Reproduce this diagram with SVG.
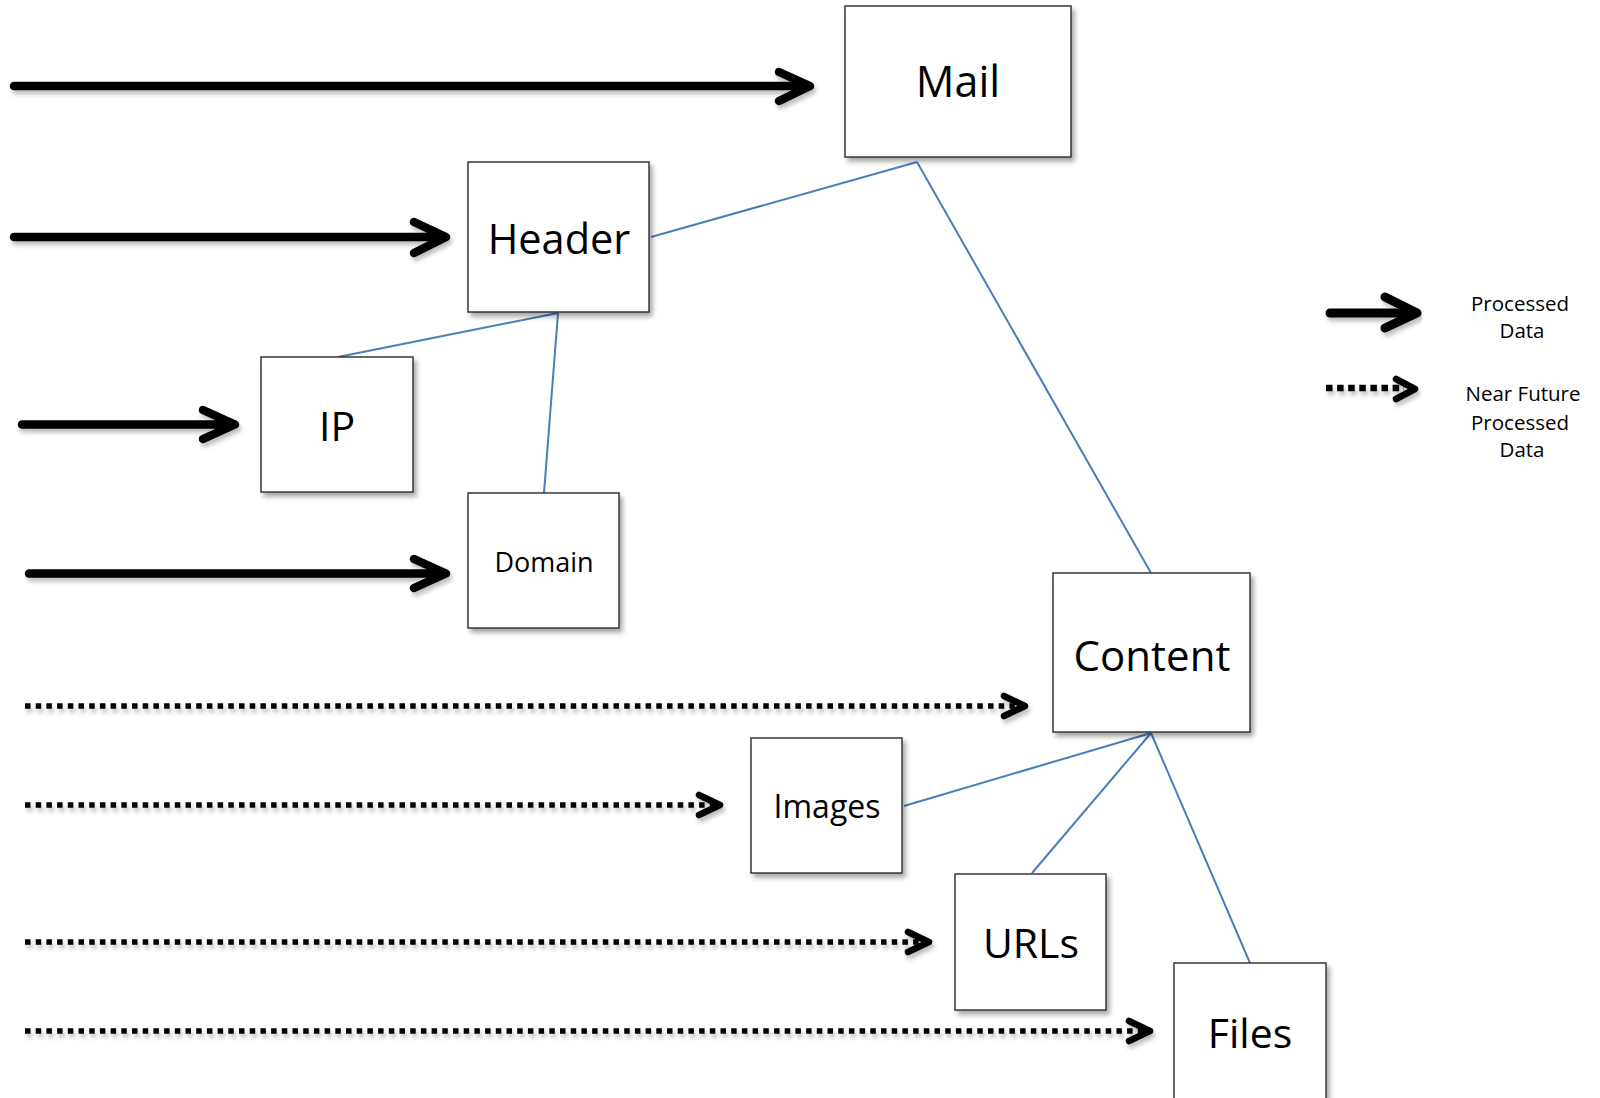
<svg xmlns="http://www.w3.org/2000/svg" width="1600" height="1098" viewBox="0 0 1600 1098">
<style>
.box{fill:#fff;stroke:#2b2b2b;stroke-width:1.4;filter:url(#sh)}
.lbl{font-family:"Open Sans","Noto Sans",sans-serif;fill:#000;text-anchor:middle}
.conn{stroke:#4a7ebb;stroke-width:2;fill:none}
.solid{stroke:#000;stroke-width:8.5;fill:none;stroke-linecap:round;stroke-linejoin:round}
.dot{stroke:#000;stroke-width:5.5;fill:none;stroke-dasharray:5.5 5.2}
.dhead{stroke:#000;stroke-width:6.5;fill:none;stroke-linecap:round;stroke-linejoin:round}
.leg{font-family:"Open Sans","Noto Sans",sans-serif;font-size:20.5px;fill:#000;text-anchor:middle}
</style>
<defs>
<filter id="sh" x="-10%" y="-10%" width="130%" height="130%">
<feDropShadow dx="3" dy="4" stdDeviation="2.5" flood-color="#000" flood-opacity="0.35"/>
</filter>
<filter id="ash" x="-5%" y="-50%" width="110%" height="300%">
<feDropShadow dx="2" dy="4" stdDeviation="2" flood-color="#000" flood-opacity="0.25"/>
</filter>
</defs>
<rect width="1600" height="1098" fill="#fff"/>
<g id="connectors">
<line class="conn" x1="651" y1="237" x2="917" y2="162"/>
<line class="conn" x1="917" y1="162" x2="1151" y2="573"/>
<line class="conn" x1="558" y1="313" x2="338" y2="357"/>
<line class="conn" x1="558" y1="313" x2="544" y2="493"/>
<line class="conn" x1="1151" y1="733" x2="904" y2="806"/>
<line class="conn" x1="1151" y1="733" x2="1032" y2="873"/>
<line class="conn" x1="1151" y1="733" x2="1250" y2="963"/>
</g>
<g id="arrows" filter="url(#ash)">
<path class="solid" d="M14 86H806M779 72L810 86L779 101"/>
<path class="solid" d="M14 237H443M414 222L446 237L414 253"/>
<path class="solid" d="M22 424.5H231M203 410L235 424.5L203 439"/>
<path class="solid" d="M29 573.5H442M414 559L446 573.5L414 588"/>
<line class="dot" x1="25" y1="706" x2="1018" y2="706"/>
<path class="dhead" d="M1004 696L1025 706L1004 716"/>
<line class="dot" x1="25" y1="805" x2="715" y2="805"/>
<path class="dhead" d="M699 795L720 805L699 815"/>
<line class="dot" x1="25" y1="942" x2="924" y2="942"/>
<path class="dhead" d="M908 932L929 942L908 952"/>
<line class="dot" x1="25" y1="1031" x2="1145" y2="1031"/>
<path class="dhead" d="M1129 1021L1150 1031L1129 1041"/>
</g>
<g id="legend">
<g filter="url(#ash)">
<path class="solid" d="M1330 313H1412" style="stroke-width:9"/>
<path class="solid" d="M1385 297L1417 313L1385 328" style="stroke-width:9"/>
<line class="dot" x1="1326" y1="388" x2="1404" y2="388" style="stroke-width:6.5;stroke-dasharray:6.5 4.6"/>
<path class="dhead" d="M1396 379L1415 389L1396 399"/>
</g>
<text class="leg" x="1520" y="311">Processed</text>
<text class="leg" x="1522" y="338">Data</text>
<text class="leg" x="1523" y="401">Near Future</text>
<text class="leg" x="1520" y="430">Processed</text>
<text class="leg" x="1522" y="457">Data</text>
</g>
<g id="mail">
<rect class="box" x="845" y="6" width="226" height="151"/>
<text class="lbl" x="958" y="97" font-size="43">Mail</text>
</g>
<g id="header">
<rect class="box" x="468" y="162" width="181" height="150"/>
<text class="lbl" x="559" y="254" font-size="41.5">Header</text>
</g>
<g id="ip">
<rect class="box" x="261" y="357" width="152" height="135"/>
<text class="lbl" x="337" y="441" font-size="41">IP</text>
</g>
<g id="domain">
<rect class="box" x="468" y="493" width="151" height="135"/>
<text class="lbl" x="544" y="572" font-size="27">Domain</text>
</g>
<g id="content">
<rect class="box" x="1053" y="573" width="197" height="159"/>
<text class="lbl" x="1152" y="671" font-size="42">Content</text>
</g>
<g id="images">
<rect class="box" x="751" y="738" width="151" height="135"/>
<text class="lbl" x="827" y="818" font-size="32">Images</text>
</g>
<g id="urls">
<rect class="box" x="955" y="874" width="151" height="136"/>
<text class="lbl" x="1031" y="958" font-size="41">URLs</text>
</g>
<g id="files">
<rect class="box" x="1174" y="963" width="152" height="150"/>
<text class="lbl" x="1250" y="1048" font-size="41">Files</text>
</g>
</svg>
